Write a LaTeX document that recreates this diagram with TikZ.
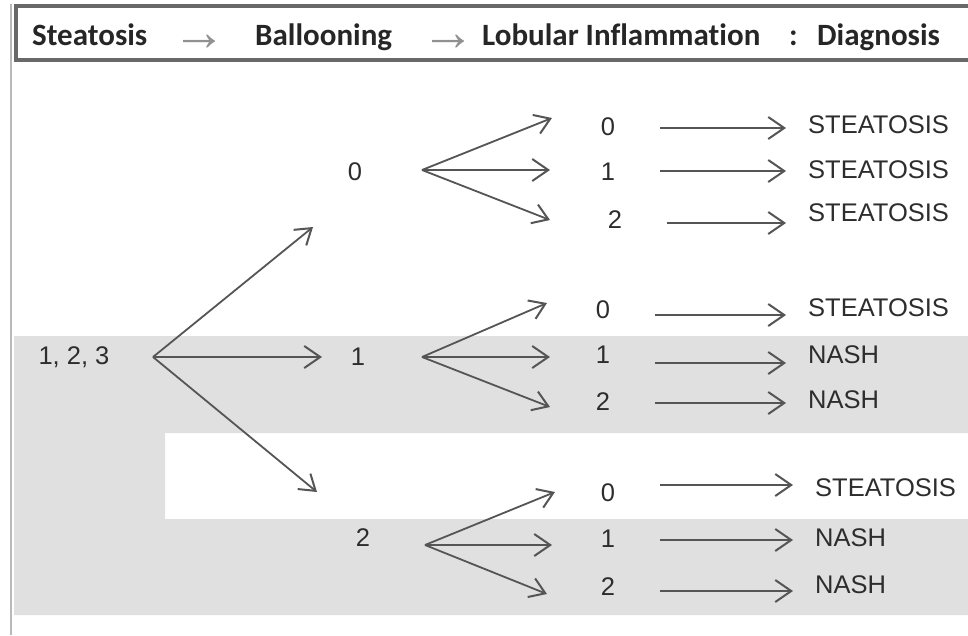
\documentclass[tikz,border=0pt]{standalone}
\usepackage{fontspec}
\setmainfont{Liberation Sans}
\newfontfamily\headfont[Ligatures=NoCommon]{Carlito}
\usetikzlibrary{arrows.meta}
\definecolor{ink}{RGB}{45,45,45}
\definecolor{line_gray}{RGB}{85,85,85}
\definecolor{band_gray}{RGB}{224,224,224}
\definecolor{frame_gray}{RGB}{105,105,105}
\definecolor{rule_gray}{RGB}{185,185,185}
\definecolor{tip_gray}{RGB}{145,145,145}

\begin{document}
\begin{tikzpicture}[x=1pt,y=-1pt,
	num/.style={inner sep=0,text=ink,font=\fontsize{25.5}{30}\selectfont},
	diag/.style={anchor=west,inner sep=0,text=ink,font=\fontsize{25.5}{30}\selectfont},
	head/.style={anchor=base west,inner sep=0,text=black!85,font=\headfont\bfseries\fontsize{31}{36}\selectfont},
	headarrow/.style={inner sep=0,text=tip_gray,font=\fontsize{54}{60}\selectfont},
	harr/.style={line_gray,line width=2.8pt,-{Straight Barb[length=16pt,width=22pt,line width=2pt]}},
	fan/.style={line_gray,line width=1.8pt,-{Straight Barb[length=15pt,width=20pt,line width=2pt]}}]
	\useasboundingbox (0,0) rectangle (968,635);
	
	% shaded rows
	\fill[band_gray] (14,336) -- (968,336) -- (968,433) -- (165,433) -- (165,519)
		-- (968,519) -- (968,615) -- (14,615) -- cycle;
	\draw[rule_gray,line width=2.5pt] (11,4) -- (11,635);
	
	% header line
	\draw[frame_gray,line width=4pt] (15.5,5.5) rectangle (1000,60);
	\node[head] (h1) at (32,45.5) {Steatosis};
	\node[headarrow] (a1) at (199,43) {→};
	\node[head] (h2) at (255,45.5) {Ballooning};
	\node[headarrow] (a2) at (448,43) {→};
	\node[head] (h3) at (482,45.5) {Lobular Inflammation};
	\node[head] (h4) at (789,45.5) {:};
	\node[head] (h5) at (817,45.5) {Diagnosis};
	
	% steatosis and ballooning
	\node[num] (r) at (74,357) {1, 2, 3};
	\node[num] (b0) at (355,172) {0};
	\node[num] (b1) at (358,357) {1};
	\node[num] (b2) at (363,538) {2};
	
	\coordinate (fr) at (153,357);
	\coordinate (fb0) at (422,170);
	\coordinate (fb1) at (422,357);
	\coordinate (fb2) at (425,545);
	\foreach \n/\x/\y in {er0/313/227,er1/322/357,er2/317/492,
			e00/552/118,e01/550/170,e02/550/220,
			e10/547/303,e11/550/357,e12/550/407,
			e20/555/492,e21/552/545,e22/547/594}
		\coordinate (\n) at (\x,\y);
	
	\foreach \f/\e in {fr/er0,fr/er2,fb0/e00,fb0/e02,fb1/e10,fb1/e12,fb2/e20,fb2/e22}
		\draw[fan] (\f) -- (\e);
	\foreach \f/\e in {fr/er1,fb0/e01,fb1/e11,fb2/e21}
		\draw[harr] (\f) -- (\e);
	
	% lobular inflammation and diagnosis
	\foreach \i/\x/\y/\t/\ay/\dx/\dy/\d in {00/608/127/0/128/808/125/STEATOSIS,
			01/608/172/1/171/808/170/STEATOSIS,
			02/615/220/2/223/808/213/STEATOSIS,
			10/603/310/0/315/808/308/STEATOSIS,
			11/603/355/1/363/808/355/NASH,
			12/603/402/2/403/808/400/NASH,
			20/608/493/0/485/815/488/STEATOSIS,
			21/608/539/1/540/815/538/NASH,
			22/608/587/2/591/815/585/NASH} {
		\node[num] (n\i) at (\x,\y) {\t};
		\node[diag] (d\i) at (\dx,\dy) {\d};
		\coordinate (a\i) at (0,\ay);
		\draw[harr,shorten <=52pt,shorten >=22pt] (n\i.center |- a\i) -- (d\i.west |- a\i);
	}
\end{tikzpicture}
\end{document}
